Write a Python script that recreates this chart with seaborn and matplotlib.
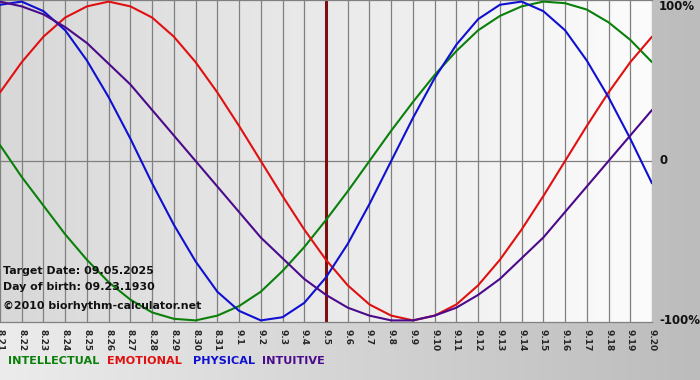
import matplotlib
matplotlib.use("Agg")
import matplotlib.pyplot as plt
from matplotlib.colors import LinearSegmentedColormap
import numpy as np
import pandas as pd
import seaborn as sns

# dates on the x axis (8.21 .. 9.20)
days = ["8.21", "8.22", "8.23", "8.24", "8.25", "8.26", "8.27", "8.28", "8.29", "8.30", "8.31",
        "9.1", "9.2", "9.3", "9.4", "9.5", "9.6", "9.7", "9.8", "9.9", "9.10",
        "9.11", "9.12", "9.13", "9.14", "9.15", "9.16", "9.17", "9.18", "9.19", "9.20"]

# values read per day (-1 .. 1)
intellectual = [0.10, -0.10, -0.28, -0.46, -0.62, -0.76, -0.87, -0.95, -0.99, -1.00, -0.97,
                -0.91, -0.82, -0.69, -0.54, -0.37, -0.19, 0.00, 0.19, 0.37, 0.54,
                0.69, 0.82, 0.91, 0.97, 1.00, 0.99, 0.95, 0.87, 0.76, 0.62]
emotional = [0.43, 0.62, 0.78, 0.90, 0.97, 1.00, 0.97, 0.90, 0.78, 0.62, 0.43,
             0.22, 0.00, -0.22, -0.43, -0.62, -0.78, -0.90, -0.97, -1.00, -0.97,
             -0.90, -0.78, -0.62, -0.43, -0.22, 0.00, 0.22, 0.43, 0.62, 0.78]
physical = [0.98, 1.00, 0.94, 0.82, 0.63, 0.40, 0.14, -0.14, -0.40, -0.63, -0.82,
            -0.94, -1.00, -0.98, -0.89, -0.73, -0.52, -0.27, 0.00, 0.27, 0.52,
            0.73, 0.89, 0.98, 1.00, 0.94, 0.82, 0.63, 0.40, 0.14, -0.14]
intuitive = [1.00, 0.97, 0.92, 0.84, 0.74, 0.61, 0.48, 0.32, 0.16, 0.00, -0.16,
             -0.32, -0.48, -0.61, -0.74, -0.84, -0.92, -0.97, -1.00, -1.00, -0.97,
             -0.92, -0.84, -0.74, -0.61, -0.48, -0.32, -0.16, 0.00, 0.16, 0.32]

series_names = ["INTELLECTUAL", "EMOTIONAL", "PHYSICAL", "INTUITIVE"]
colors = ["#0a800a", "#e01010", "#1010d0", "#4b0a8c"]
target_day = "9.5"

sns.set_style("white")
plt.rcParams['font.family'] = ['DejaVu Sans']

rows = []
for name, vals in zip(series_names, [intellectual, emotional, physical, intuitive]):
    for i, v in enumerate(vals):
        rows.append({"day": i, "value": v, "series": name})
df = pd.DataFrame(rows)

fig = plt.figure(figsize=(7, 3.8), dpi=100)

# whole background: horizontal grey gradient
bg = fig.add_axes([0, 0, 1, 1], zorder=-5)
grad = np.linspace(0, 1, 256).reshape(1, -1)
bg.imshow(grad, aspect="auto", extent=[0, 1, 0, 1],
          cmap=LinearSegmentedColormap.from_list("bgc", ["#ececec", "#bcbcbc"]))
bg.axis("off")

ax = fig.add_axes([0, 1 - 322 / 380, 652 / 700, 322 / 380])
ax.imshow(grad, aspect="auto", extent=[0, 30, -1.01, 1.01], zorder=0,
          cmap=LinearSegmentedColormap.from_list("plc", ["#d8d8d8", "#fcfcfc"]))

# grid
for i in range(len(days)):
    ax.axvline(i, color="#808080", lw=0.9, zorder=1)
ax.axhline(0, color="#808080", lw=0.9, zorder=1)

sns.lineplot(data=df, x="day", y="value", hue="series", hue_order=series_names,
             palette=colors, legend=False, ax=ax, lw=1.5, zorder=3)

ax.axvline(days.index(target_day), color="#7a1010", lw=2.2, zorder=2)

ax.set_xlim(0, 30)
ax.set_ylim(-1.01, 1.01)
ax.set_xticks(range(len(days)))
ax.set_xticklabels(days, rotation=270, fontsize=6.5, fontweight="bold")
ax.tick_params(axis="x", direction="out", length=4, color="#808080", pad=1)
ax.set_yticks([])
ax.set_xlabel("")
ax.set_ylabel("")
for s in ["left", "right"]:
    ax.spines[s].set_visible(False)
for s in ["top", "bottom"]:
    ax.spines[s].set_color("#808080")
    ax.spines[s].set_linewidth(0.9)

# right-side scale labels
for txt, ypx in [("100%", 6), ("0", 161), ("-100%", 321)]:
    fig.text(659 / 700, 1 - ypx / 380, txt, fontsize=8.5, fontweight="bold",
             ha="left", va="center", color="#111111")

# info text
info = [("Target Date: 09.05.2025", 271), ("Day of birth: 09.23.1930", 287),
        ("\u00a92010 biorhythm-calculator.net", 306)]
for txt, ypx in info:
    fig.text(3 / 700, 1 - ypx / 380, txt, fontsize=7.9, fontweight="bold",
             ha="left", va="center", color="#111111")

# legend
for name, c, xpx in zip(series_names, colors, [8, 107, 193, 262]):
    fig.text(xpx / 700, 1 - 361 / 380, name, fontsize=8.1, fontweight="bold",
             ha="left", va="center", color=c)

plt.savefig("out.png", dpi=100)
